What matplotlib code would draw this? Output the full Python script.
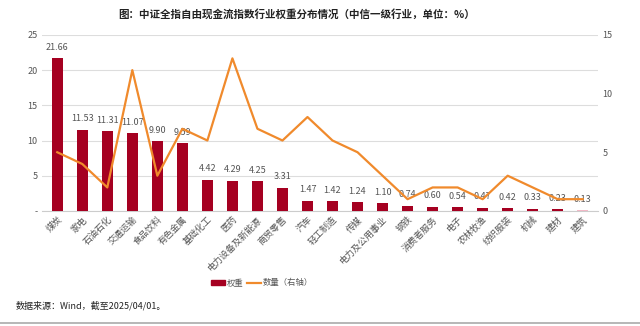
import numpy as np
from matplotlib import pyplot as plt
from matplotlib.lines import Line2D
from matplotlib.patches import Patch

plt.rcParams['font.family'] = ['Noto Sans CJK SC', 'DejaVu Sans']

# 行业、权重（%）与成分股数量
industries = ['煤炭', '家电', '石油石化', '交通运输', '食品饮料', '有色金属', '基础化工',
              '医药', '电力设备及新能源', '商贸零售', '汽车', '轻工制造', '传媒',
              '电力及公用事业', '钢铁', '消费者服务', '电子', '农林牧渔', '纺织服装',
              '机械', '建材', '建筑']
weights = [21.66, 11.53, 11.31, 11.07, 9.90, 9.59, 4.42, 4.29, 4.25, 3.31, 1.47,
           1.42, 1.24, 1.10, 0.74, 0.60, 0.54, 0.47, 0.42, 0.33, 0.23, 0.13]
counts = [5, 4, 2, 12, 3, 7, 6, 13, 7, 6, 8, 6, 5, 3, 1, 2, 2, 1, 3, 2, 1, 1]

bar_color = '#A50021'
line_color = '#F08A2C'
text_gray = '#555555'

fig = plt.figure(figsize=(6.4, 3.26), dpi=100)
ax = fig.add_axes([0.066, 0.353, 0.868, 0.54])
ax2 = ax.twinx()

x = np.arange(len(industries))
colors = [bar_color] * (len(industries) - 1) + ['#F2B8C6']
ax.bar(x, weights, width=0.42, color=colors, zorder=3)
for xi, w in zip(x, weights):
    ax.text(xi, w + 0.9, f'{w:.2f}', ha='center', va='bottom', fontsize=6.5,
            color=text_gray, zorder=5)

# 数量折线画在右轴上，位于柱子上方
ax2.plot(x, counts, color=line_color, lw=1.6, zorder=4)

ax.set_xlim(-0.6, len(industries) - 0.4)
ax.set_ylim(0, 25)
ax.set_yticks([0, 5, 10, 15, 20, 25])
ax.set_yticklabels(['-', '5', '10', '15', '20', '25'])
ax2.set_ylim(0, 15)
ax2.set_yticks([0, 5, 10, 15])

ax.set_xticks(x)
ax.set_xticklabels(industries, rotation=45, ha='right', rotation_mode='anchor',
                   fontsize=6, color=text_gray)
ax.grid(axis='y', color='#dddddd', lw=0.8, zorder=0)
ax.set_axisbelow(True)

for a in (ax, ax2):
    for s in a.spines.values():
        s.set_visible(False)
    a.tick_params(axis='both', length=0, labelsize=6.5, labelcolor=text_gray)
ax.tick_params(axis='x', pad=3)
ax.spines['bottom'].set_visible(True)
ax.spines['bottom'].set_color('#cccccc')

fig.text(0.463, 0.955, '图：中证全指自由现金流指数行业权重分布情况（中信一级行业，单位：%）',
         ha='center', va='center', fontsize=7.6, fontweight='bold', color='#222222')

handles = [Patch(color=bar_color, label='权重'),
           Line2D([0], [0], color=line_color, lw=1.6, label='数量（右轴）')]
fig.legend(handles=handles, loc='center', bbox_to_anchor=(0.41, 0.132), ncol=2,
           frameon=False, fontsize=6, labelcolor=text_gray, handlelength=1.6,
           handleheight=0.6, columnspacing=0.4, handletextpad=0.3)

fig.text(0.025, 0.063, '数据来源：Wind，截至2025/04/01。', ha='left', va='center',
         fontsize=6.5, color='#222222')
fig.add_artist(Line2D([0, 1], [0.01, 0.01], color='#aaaaaa', lw=1.2,
                      transform=fig.transFigure))

fig.savefig('out.png', dpi=100)
